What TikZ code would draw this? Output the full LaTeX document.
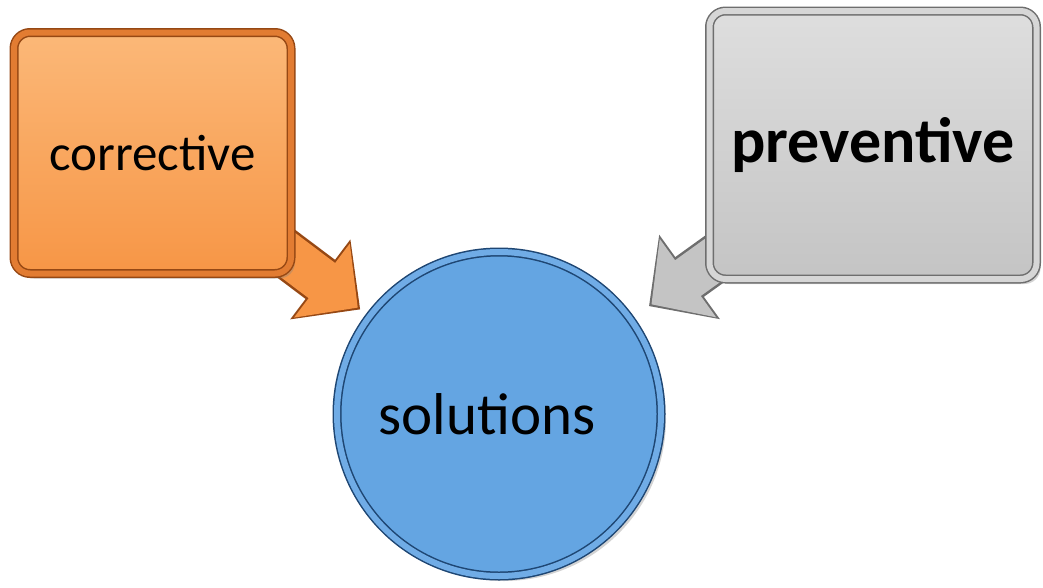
\documentclass[tikz,border=0pt]{standalone}
\usepackage{fontspec}
\setmainfont{Carlito}
\usetikzlibrary{shapes,arrows.meta,shadows,backgrounds}

\definecolor{corrTop}{RGB}{251,184,120}
\definecolor{corrBot}{RGB}{247,150,70}
\definecolor{corrRim}{RGB}{150,72,20}
\definecolor{corrBand}{RGB}{226,124,50}
\definecolor{prevTop}{RGB}{222,222,222}
\definecolor{prevBot}{RGB}{196,196,196}
\definecolor{prevRim}{RGB}{110,110,110}
\definecolor{prevBand}{RGB}{214,214,214}
\definecolor{solFill}{RGB}{100,165,226}
\definecolor{solRim}{RGB}{30,70,115}
\definecolor{solBand}{RGB}{112,172,230}

\begin{document}
\begin{tikzpicture}[x=1pt,y=-1pt,
            main box/.style={rectangle,rounded corners=16pt,inner sep=0pt,
             line width=1.5pt,double distance=6pt,
             drop shadow={shadow xshift=4pt,shadow yshift=-5pt,opacity=0.35}},
            corr box/.style={main box,draw=corrRim,double=corrBand,
             top color=corrTop,bottom color=corrBot,
             minimum width=277pt,minimum height=241pt,
             font=\fontsize{51}{60}\selectfont},
            prev box/.style={main box,draw=prevRim,double=prevBand,
             top color=prevTop,bottom color=prevBot,
             minimum width=327pt,minimum height=268pt,
             font=\fontsize{64}{72}\selectfont\bfseries},
            sol circle/.style={circle,inner sep=0pt,minimum size=324pt,
             fill=solFill,draw=solRim,double=solBand,
             line width=1.5pt,double distance=6pt,
             drop shadow={shadow xshift=5pt,shadow yshift=-5pt,opacity=0.35},
             font=\fontsize{59}{68}\selectfont},
            corr arrow/.style={draw=corrBot,line width=44pt,
             -{Triangle[width=90pt,length=45pt]},shorten >=14pt,
             preaction={draw=corrRim,line width=49pt,
              -{Triangle[width=97pt,length=50pt]},shorten >=11pt}},
            prev arrow/.style={draw=prevBot,line width=44pt,
             -{Triangle[width=94pt,length=45pt]},shorten >=25pt,
             preaction={draw=prevRim,line width=49pt,
              -{Triangle[width=101pt,length=50pt]},shorten >=22pt}}]

            \useasboundingbox (0,0) rectangle (1043,587);

            \node[corr box] (corr) at (152.5,153) {corrective};
            \node[prev box] (prev) at (873,145) {preventive};
            % word sits a little left of the centre
            \node[sol circle] (sol) at (499,414) {solutions\rule{24pt}{0pt}};

            % block arrows sit under the boxes
            \begin{pgfonlayer}{background}
              \draw[corr arrow] (corr.center) -- (sol);
              \draw[prev arrow] (prev.center) -- (sol);
            \end{pgfonlayer}

\end{tikzpicture}
\end{document}
